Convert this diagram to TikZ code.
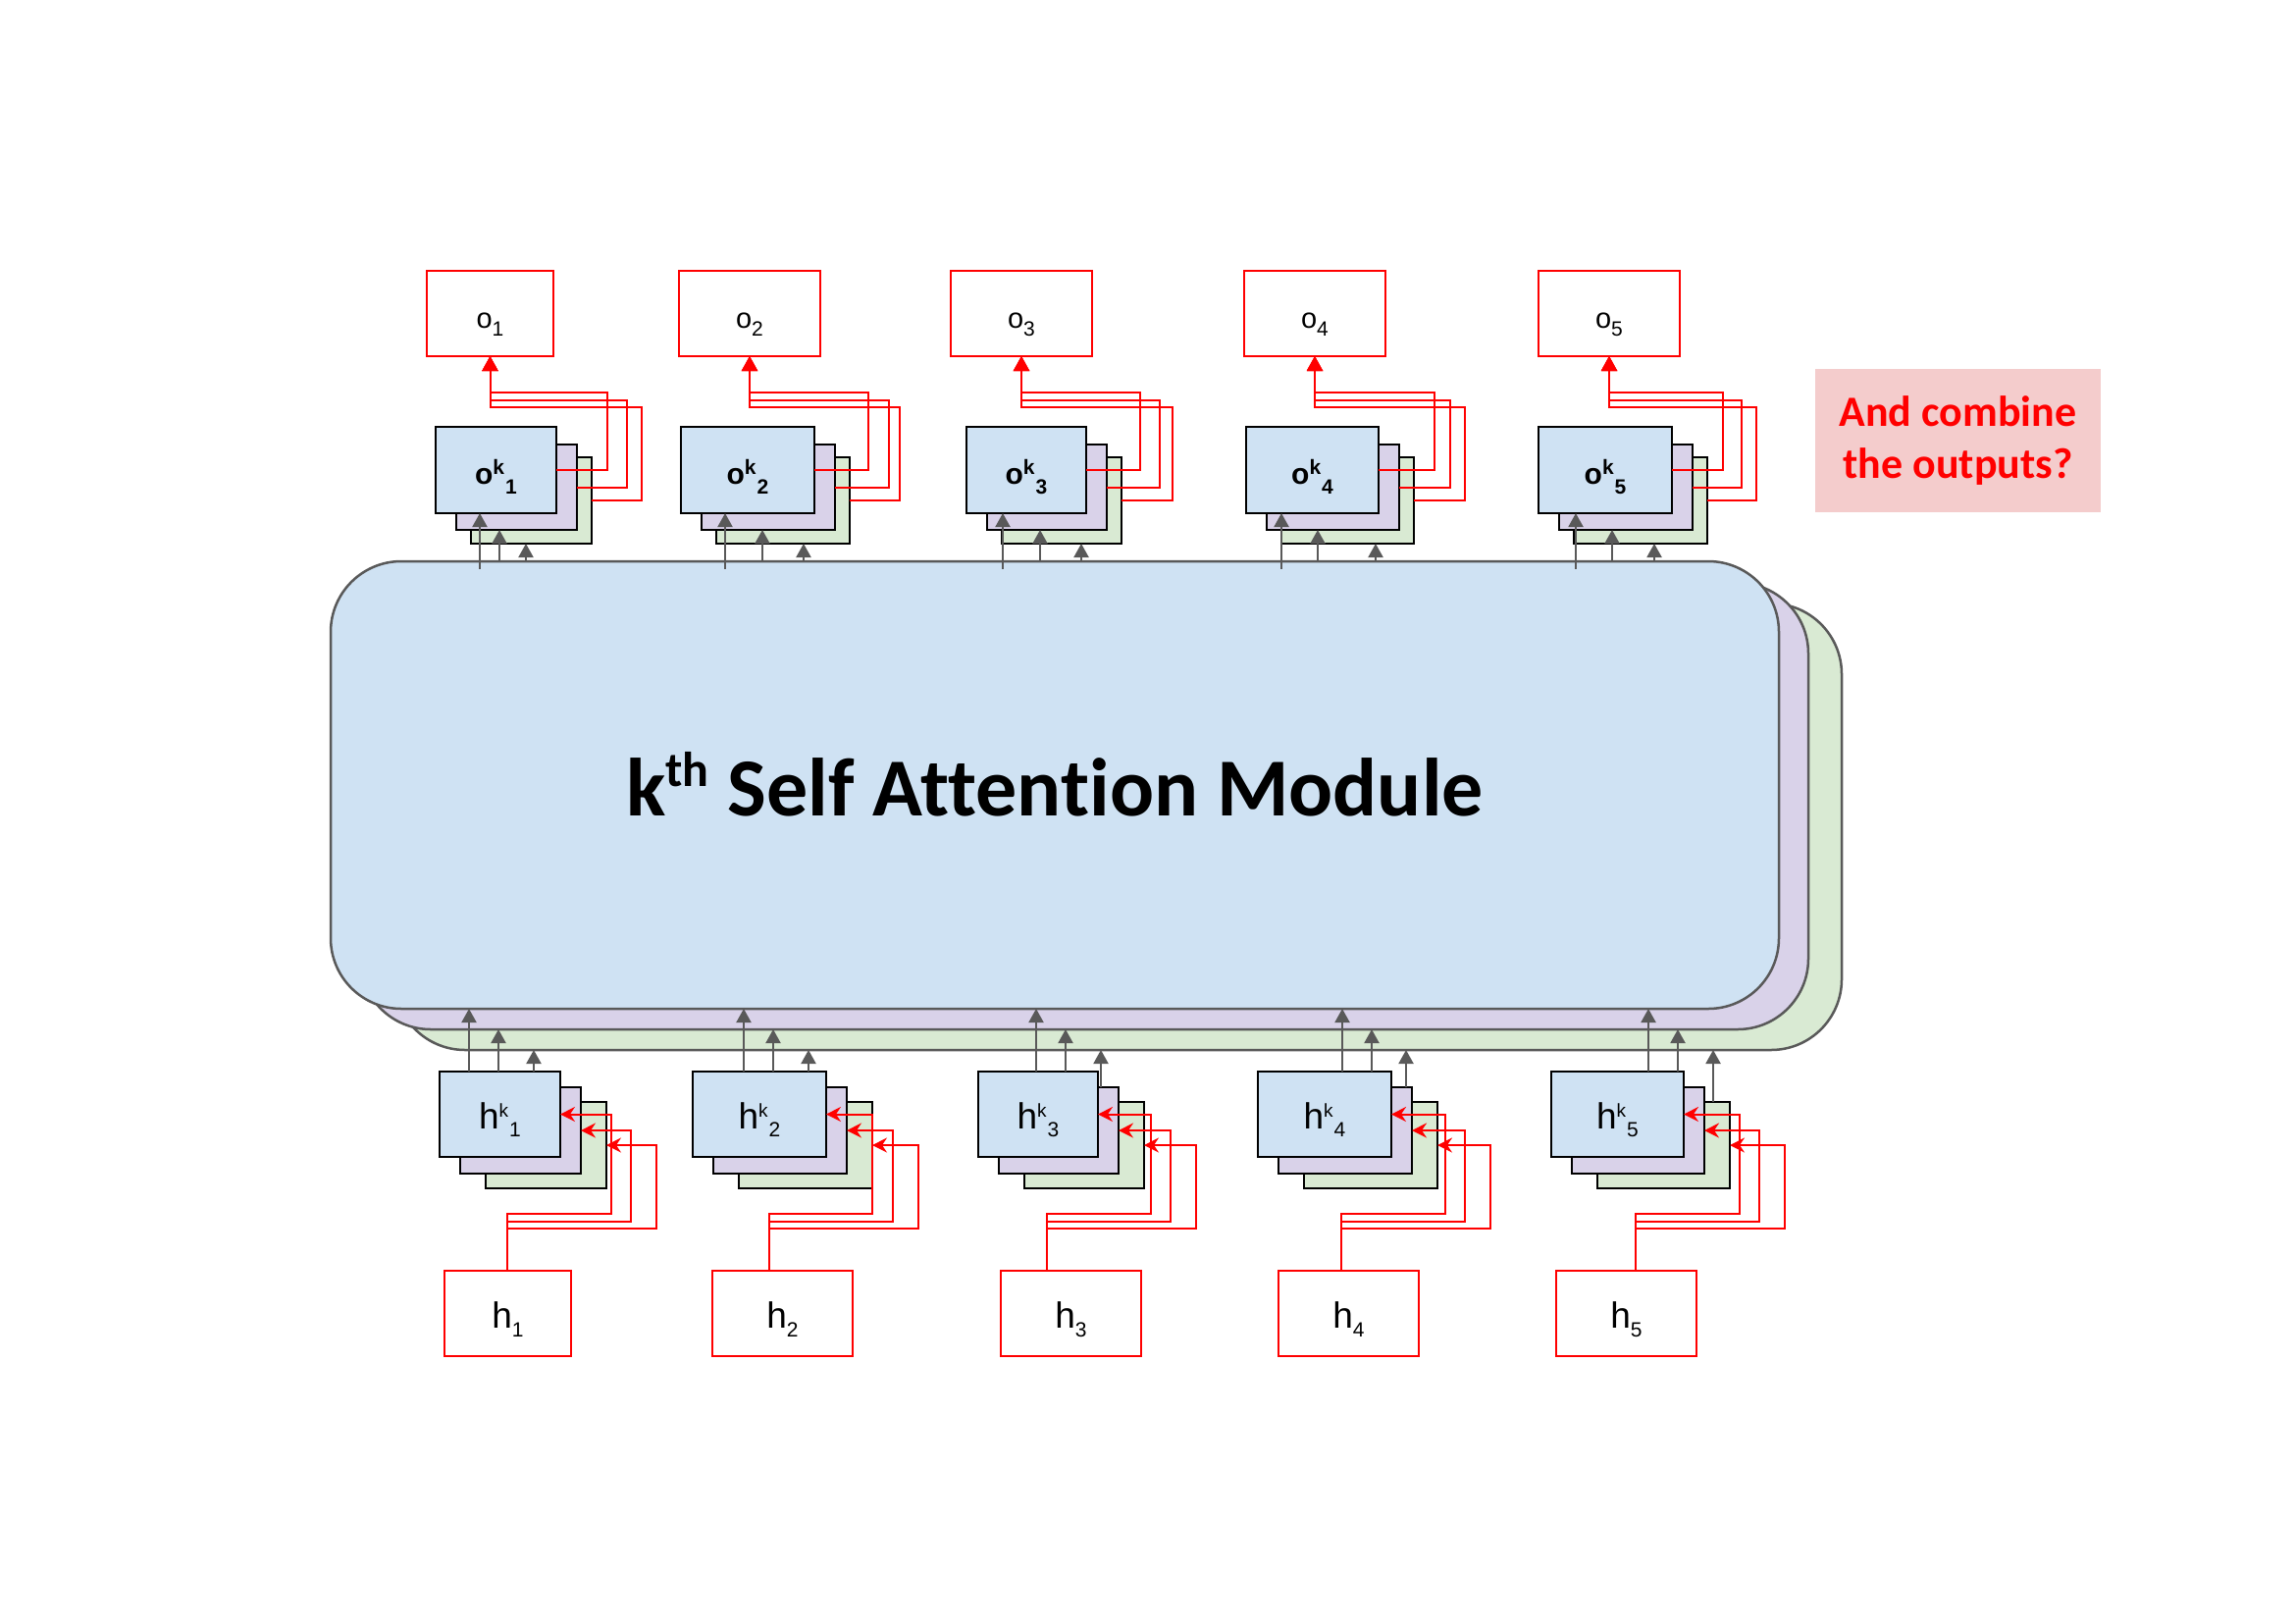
\documentclass[tikz,border=0pt]{standalone}
\usepackage{fontspec}
\setmainfont{Liberation Sans}
\newfontfamily\titlefont[Ligatures=NoCommon]{Carlito}
\usetikzlibrary{arrows.meta,calc}
\definecolor{cblue}{HTML}{CFE2F3}
\definecolor{cpurp}{HTML}{D9D2E9}
\definecolor{cgreen}{HTML}{D9EAD3}
\definecolor{cpink}{HTML}{F4CCCC}
\definecolor{cgray}{HTML}{595959}
\definecolor{cred}{HTML}{FF0000}
\newcommand\pbox[7]{\node[#1,minimum width={(#5)-(#3)},minimum height={(#6)-(#4)}] (#2) at ({((#3)+(#5))/2},{((#4)+(#6))/2}) {#7};}
\newcommand\olab[1]{\fontsize{29}{29}\selectfont o\raisebox{-8pt}{\fontsize{21}{21}\selectfont #1}}
\newcommand\oklab[1]{\fontsize{30}{30}\selectfont\bfseries o\raisebox{10pt}{\fontsize{21}{21}\selectfont k}\hspace{1pt}\raisebox{-10pt}{\fontsize{21}{21}\selectfont #1}}
\newcommand\hklab[1]{\fontsize{37}{37}\selectfont h\raisebox{12pt}{\fontsize{19}{19}\selectfont k}\hspace{1pt}\raisebox{-8pt}{\fontsize{21}{21}\selectfont #1}}
\newcommand\hlab[1]{\fontsize{37}{37}\selectfont h\raisebox{-9pt}{\fontsize{21}{21}\selectfont #1}}
\begin{document}
\begin{tikzpicture}[x=1pt,y=-1pt,
  every node/.style={inner sep=0pt,outer sep=0pt},
  lbl/.style={text height=30pt,text depth=1pt},
  obox/.style={draw=cred,line width=2pt,fill=white,lbl},
  hbox/.style={draw=cred,line width=2pt,fill=white,lbl},
  stkB/.style={draw=black,line width=2.5pt,fill=cblue,lbl},
  stkP/.style={draw=black,line width=2.5pt,fill=cpurp},
  stkG/.style={draw=black,line width=2.5pt,fill=cgreen},
  modbox/.style={draw=cgray,line width=2.5pt,rounded corners=72pt},
  garrow/.style={draw=cgray,line width=2pt,-{Triangle[length=14pt,width=15pt]}},
  rarrowt/.style={draw=cred,line width=2pt,-{Triangle[length=15pt,width=16pt]}},
  rarrowb/.style={draw=cred,line width=2pt,-{Stealth[length=15pt,width=15pt,inset=5pt]}},
  pinkbox/.style={fill=cpink,text=cred,align=center,font=\titlefont\bfseries\fontsize{44}{53}\selectfont}
]
\useasboundingbox[fill=white] (0,0) rectangle (2339,1654);
% module layers
\pbox{modbox,fill=cgreen}{mG}{402}{615}{1877}{1070}{}
\pbox{modbox,fill=cpurp}{mP}{367}{594}{1843}{1049}{}
\pbox{modbox,fill=cblue}{mB}{337}{572}{1813}{1028}{}
\node[anchor=base] (title) at (1075,831) {\titlefont\bfseries\fontsize{84}{84}\selectfont k\raisebox{30pt}{\fontsize{50}{50}\selectfont th} Self Attention Module};
% pink note
\pbox{pinkbox}{note}{1850}{376}{2141}{522}{And combine\\the outputs?}
% top columns
\foreach \cc/\oL/\oR/\fL/\fR/\ga/\gb/\gc/\va/\vb/\vc in {
 1/435/564/444/567/489/509/536/619/639/654,
 2/692/836/694/830/739/777/819/885/906/917,
 3/969/1113/985/1107/1022/1060/1102/1162/1182/1195,
 4/1268/1412/1270/1405/1306/1343/1402/1462/1478/1493,
 5/1568/1712/1568/1704/1606/1643/1686/1756/1775/1790}{
 \pbox{obox}{o\cc}{\oL}{276}{\oR}{363}{\olab{\cc}}
 \pbox{stkG}{okG\cc}{\fL+36}{466}{\fR+36}{554}{}
 \pbox{stkP}{okP\cc}{\fL+21}{453}{\fR+21}{540}{}
 \pbox{stkB}{okB\cc}{\fL}{435}{\fR}{523}{\oklab{\cc}}
 \draw[garrow] ($(\ga,0 |- mB.north)+(0,8)$) -- (\ga,0 |- okB\cc.south);
 \draw[garrow] (\gb,0 |- mB.north) -- (\gb,0 |- okP\cc.south);
 \draw[garrow] (\gc,0 |- mB.north) -- (\gc,0 |- okG\cc.south);
 \draw[rarrowt] (okB\cc.east) -| (\va,400) -| (o\cc.south);
 \draw[rarrowt] (okP\cc.east) -| (\vb,408) -| (o\cc.south);
 \draw[rarrowt] (okG\cc.east) -| (\vc,415) -| (o\cc.south);
}
% bottom columns
\foreach \cc/\hL/\hR/\fL/\fR/\ga/\gb/\gc/\gs/\va/\vb/\vc/\cx in {
 1/453/582/448/571/478/508/544/B/623/643/669/517,
 2/726/869/706/842/758/788/824/B/889/910/936/784,
 3/1020/1163/997/1119/1056/1086/1122/P/1173/1193/1219/1067,
 4/1303/1446/1282/1418/1368/1398/1433/P/1473/1493/1519/1367,
 5/1586/1729/1581/1716/1680/1710/1746/G/1773/1793/1819/1667}{
 \pbox{hbox}{h\cc}{\hL}{1295}{\hR}{1382}{\hlab{\cc}}
 \pbox{stkG}{hkG\cc}{\fL+47}{1123}{\fR+47}{1211}{}
 \pbox{stkP}{hkP\cc}{\fL+21}{1108}{\fR+21}{1196}{}
 \pbox{stkB}{hkB\cc}{\fL}{1092}{\fR}{1179}{\hklab{\cc}}
 \draw[garrow] (\ga,0 |- hkB\cc.north) -- (\ga,0 |- mB.south);
 \draw[garrow] (\gb,0 |- hkB\cc.north) -- (\gb,0 |- mP.south);
 \draw[garrow] (\gc,0 |- hk\gs\cc.north) -- (\gc,0 |- mG.south);
 \draw[rarrowb] (\cx,0 |- h\cc.north) |- (\va,1237) |- (hkB\cc.east);
 \draw[rarrowb] (\cx,0 |- h\cc.north) |- (\vb,1245) |- (hkP\cc.east);
 \draw[rarrowb] (\cx,0 |- h\cc.north) |- (\vc,1252) |- (hkG\cc.east);
}
\end{tikzpicture}
\end{document}
